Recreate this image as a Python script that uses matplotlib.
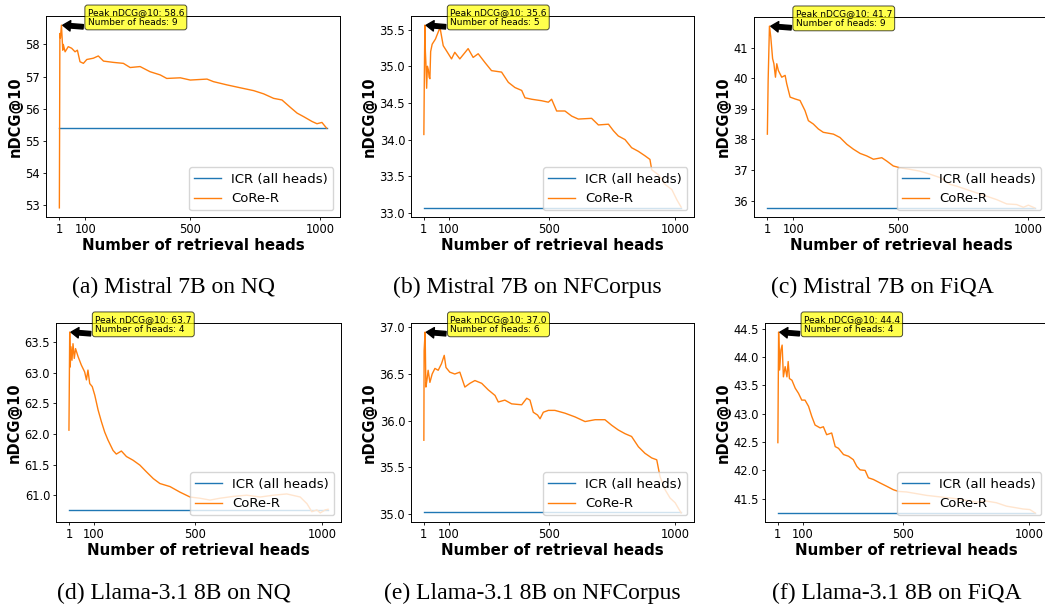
import matplotlib
matplotlib.use("Agg")
import matplotlib.pyplot as plt
from matplotlib.ticker import MultipleLocator
import numpy as np

# ─── data ───────────────────────────────────────────────────────────────────

N_HEADS = 1024

captions = [
    "(a) Mistral 7B on NQ",
    "(b) Mistral 7B on NFCorpus",
    "(c) Mistral 7B on FiQA",
    "(d) Llama-3.1 8B on NQ",
    "(e) Llama-3.1 8B on NFCorpus",
    "(f) Llama-3.1 8B on FiQA",
]

icr_scores = [55.39, 33.07, 35.76, 60.76, 35.02, 41.25]
peak_heads = [9, 5, 9, 4, 6, 4]
y_tick_steps = [1, 0.5, 1, 0.5, 0.5, 0.5]

# (a) Mistral 7B / NQ
heads_a = [1, 3, 5, 9, 14, 16, 23, 35, 48, 61, 70, 80, 93, 106, 131, 150, 170,
           208, 246, 272, 310, 348, 387, 412, 464, 502, 566, 591, 642, 693, 745,
           783, 821, 853, 885, 911, 936, 968, 987, 1006, 1024]
core_a = [52.91, 58.34, 58.20, 58.60, 57.82, 58.00, 57.77, 57.93, 57.88, 57.77,
          57.82, 57.46, 57.41, 57.53, 57.57, 57.64, 57.48, 57.44, 57.41, 57.28,
          57.31, 57.15, 57.05, 56.94, 56.96, 56.89, 56.92, 56.84, 56.74, 56.65,
          56.56, 56.46, 56.32, 56.27, 56.04, 55.86, 55.75, 55.60, 55.53, 55.57,
          55.39]

# (b) Mistral 7B / NFCorpus
heads_b = [1, 3, 5, 7, 9, 12, 15, 19, 22, 25, 28, 31, 34, 47, 62, 65, 78, 91,
           111, 124, 144, 177, 197, 217, 244, 270, 310, 337, 363, 390, 403, 430,
           469, 496, 509, 529, 562, 589, 615, 668, 695, 735, 755, 774, 801, 827,
           854, 880, 900, 907, 934, 960, 987, 1007, 1024]
core_b = [34.07, 34.90, 35.56, 35.20, 35.05, 34.70, 35.00, 34.95, 34.85, 34.83,
          35.20, 35.25, 35.30, 35.37, 35.50, 35.53, 35.28, 35.21, 35.10, 35.19,
          35.10, 35.24, 35.12, 35.17, 35.05, 34.94, 34.92, 34.78, 34.71, 34.67,
          34.57, 34.55, 34.53, 34.51, 34.55, 34.39, 34.39, 34.32, 34.28, 34.29,
          34.20, 34.21, 34.12, 34.05, 34.00, 33.89, 33.84, 33.78, 33.73, 33.59,
          33.52, 33.39, 33.32, 33.18, 33.08]

# (c) Mistral 7B / FiQA
heads_c = [1, 4, 9, 14, 21, 26, 32, 37, 43, 56, 69, 75, 88, 107, 126, 145, 158,
           177, 196, 215, 254, 279, 305, 330, 356, 381, 407, 439, 458, 483, 509,
           547, 585, 624, 662, 700, 726, 764, 802, 841, 879, 917, 955, 981, 1000,
           1024]
core_c = [38.17, 39.93, 41.70, 41.35, 40.64, 40.47, 40.03, 40.47, 40.25, 40.03,
          40.09, 39.82, 39.38, 39.32, 39.27, 38.94, 38.61, 38.50, 38.34, 38.23,
          38.17, 38.06, 37.84, 37.68, 37.54, 37.46, 37.35, 37.40, 37.29, 37.13,
          37.07, 37.02, 36.96, 36.86, 36.75, 36.53, 36.47, 36.36, 36.25, 36.14,
          36.03, 35.89, 35.87, 35.78, 35.85, 35.76]

# (d) Llama-3.1 8B / NQ
heads_d = [1, 4, 6, 9, 13, 17, 22, 27, 37, 50, 63, 70, 76, 83, 93, 103, 116,
           129, 142, 155, 175, 188, 208, 228, 254, 281, 307, 334, 360, 400, 439,
           479, 518, 558, 597, 650, 703, 756, 809, 861, 914, 941, 960, 980, 993,
           1013, 1024]
core_d = [62.06, 63.66, 63.09, 63.42, 63.20, 63.47, 63.23, 63.39, 63.26, 63.12,
          63.01, 62.88, 63.04, 62.82, 62.77, 62.63, 62.39, 62.20, 62.03, 61.90,
          61.73, 61.67, 61.72, 61.63, 61.57, 61.49, 61.38, 61.27, 61.19, 61.14,
          61.05, 60.97, 60.95, 60.92, 60.95, 60.98, 61.00, 60.97, 61.00, 61.02,
          60.97, 60.86, 60.73, 60.76, 60.71, 60.76, 60.77]

# (e) Llama-3.1 8B / NFCorpus
heads_e = [1, 2, 6, 9, 13, 18, 25, 34, 45, 58, 71, 82, 89, 104, 124, 144, 164,
           184, 204, 231, 257, 284, 297, 323, 350, 390, 410, 423, 436, 453, 463,
           476, 496, 522, 562, 602, 642, 682, 721, 748, 774, 801, 827, 854, 880,
           907, 927, 940, 960, 980, 1000, 1024]
core_e = [35.79, 36.75, 36.95, 36.36, 36.43, 36.54, 36.41, 36.50, 36.56, 36.54,
          36.61, 36.70, 36.57, 36.52, 36.50, 36.52, 36.36, 36.40, 36.43, 36.40,
          36.33, 36.27, 36.20, 36.22, 36.18, 36.17, 36.24, 36.22, 36.09, 36.06,
          36.02, 36.09, 36.11, 36.11, 36.08, 36.04, 35.99, 36.01, 36.01, 35.95,
          35.90, 35.86, 35.83, 35.72, 35.65, 35.60, 35.58, 35.40, 35.26, 35.17,
          35.12, 35.01]

# (f) Llama-3.1 8B / FiQA
heads_f = [1, 4, 8, 13, 18, 23, 30, 37, 42, 47, 57, 70, 83, 96, 109, 123, 136,
           149, 169, 182, 195, 215, 229, 242, 262, 282, 301, 315, 328, 348, 361,
           381, 407, 434, 460, 480, 513, 553, 592, 632, 672, 711, 751, 791, 830,
           870, 910, 950, 976, 1003, 1024]
core_f = [42.49, 44.44, 43.77, 44.12, 44.21, 43.65, 43.83, 43.65, 43.92, 43.62,
          43.59, 43.45, 43.36, 43.24, 43.24, 43.13, 42.95, 42.80, 42.75, 42.77,
          42.63, 42.66, 42.42, 42.39, 42.28, 42.25, 42.19, 42.07, 42.01, 42.00,
          41.87, 41.84, 41.78, 41.72, 41.66, 41.63, 41.62, 41.59, 41.56, 41.54,
          41.52, 41.50, 41.47, 41.44, 41.46, 41.43, 41.37, 41.34, 41.32, 41.31,
          41.25]

all_heads = [heads_a, heads_b, heads_c, heads_d, heads_e, heads_f]
all_core = [core_a, core_b, core_c, core_d, core_e, core_f]

x_ticks = [1, 100, 500, 1000]

# axes boxes in pixels (left, right, top, bottom) on the 1045x609 canvas
W, H = 1045, 609
boxes_px = [
    (46, 340, 16, 217),
    (411, 694, 16, 217),
    (754, 1048, 17, 217),
    (56, 341, 323, 522),
    (411, 694, 323, 522),
    (765, 1048, 323, 522),
]
caption_px = [(174, 287), (527, 287), (882, 287),
              (174, 593), (532, 593), (897, 593)]

fig = plt.figure(figsize=(W / 100, H / 100), dpi=100)

for i in range(6):
    l, r, t, b = boxes_px[i]
    ax = fig.add_axes([l / W, 1 - b / H, (r - l) / W, (b - t) / H])

    heads = np.array(all_heads[i])
    core = np.array(all_core[i])

    ax.plot([1, N_HEADS], [icr_scores[i]] * 2, color="tab:blue", lw=1.0,
            label="ICR (all heads)")
    ax.plot(heads, core, color="tab:orange", lw=1.0, label="CoRe-R")

    # 峰值标注
    k = int(np.argmax(core))
    ax.annotate(
        f"Peak nDCG@10: {core[k]:.1f}\nNumber of heads: {peak_heads[i]}",
        xy=(heads[k], core[k]),
        xytext=(heads[k] + 100, core[k]),
        fontsize=6.5,
        arrowprops=dict(facecolor="black", shrink=0.05, width=3.2,
                        headwidth=7.5, headlength=5.5),
        bbox=dict(boxstyle="round,pad=0.3", fc="yellow", alpha=0.7, lw=0.7),
        annotation_clip=False,
    )

    ax.set_xticks(x_ticks)
    ax.yaxis.set_major_locator(MultipleLocator(y_tick_steps[i]))
    ax.tick_params(labelsize=8.3, length=2.4, width=0.6, pad=1.8)
    for sp in ax.spines.values():
        sp.set_linewidth(0.7)
    ax.set_xlabel("Number of retrieval heads", fontsize=10.8,
                  fontweight="bold", labelpad=1.5)
    ax.set_ylabel("nDCG@10", fontsize=10.5, fontweight="bold", labelpad=2)
    ax.legend(loc="lower right", fontsize=9.5)

    cx, cy = caption_px[i]
    fig.text(cx / W, 1 - cy / H, captions[i], ha="center", va="center",
             fontsize=17, family="Liberation Serif")

fig.savefig("out.png", dpi=100)
